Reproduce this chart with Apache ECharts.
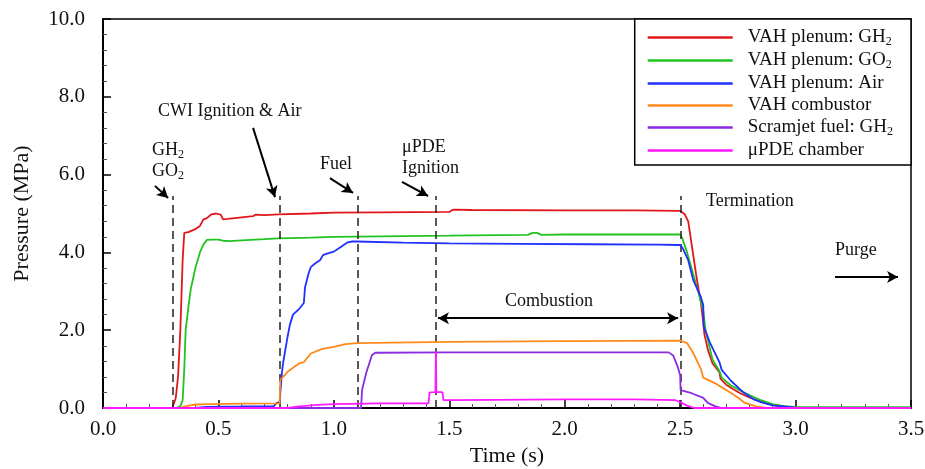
<!DOCTYPE html>
<html><head><meta charset="utf-8">
<script src="https://cdn.jsdelivr.net/npm/echarts@6/dist/echarts.min.js"></script>
<style>html,body{margin:0;padding:0;background:#fff}#c{width:925px;height:469px}</style>
</head><body><div id="c"></div>
<script>
// ---- data (time s, pressure MPa) ----
const seriesNames = ['VAH plenum: GH2','VAH plenum: GO2','VAH plenum: Air','VAH combustor','Scramjet fuel: GH2','μPDE chamber'];
const legendLabels = ['{n|VAH plenum: GH}{s|2}','{n|VAH plenum: GO}{s|2}','{n|VAH plenum: Air}','{n|VAH combustor}','{n|Scramjet fuel: GH}{s|2}','{n|μPDE chamber}'];
const xTicks = [0,0.5,1.0,1.5,2.0,2.5,3.0,3.5];
const yTicks = [0,2,4,6,8,10];
const eventTimes = [0.303,0.767,1.103,1.442,2.502];

const plenumGH2 = [[0,0],[0.30,0],[0.315,0.25],[0.325,0.8],[0.335,2.0],[0.345,3.8],[0.352,4.5],[0.37,4.52],[0.40,4.6],[0.42,4.68],[0.435,4.85],[0.45,4.88],[0.47,4.98],[0.49,5.0],[0.51,4.97],[0.52,4.85],[0.54,4.86],[0.60,4.9],[0.65,4.93],[0.66,4.97],[0.70,4.96],[0.76,4.98],[0.9,5.0],[1.0,5.02],[1.2,5.03],[1.5,5.04],[1.51,5.08],[1.52,5.1],[1.6,5.09],[2.0,5.08],[2.3,5.08],[2.5,5.07],[2.52,4.98],[2.535,4.8],[2.55,4.2],[2.57,3.4],[2.59,2.7],[2.60,2.2],[2.605,1.9],[2.62,1.5],[2.64,1.15],[2.67,0.92],[2.675,0.75],[2.70,0.6],[2.73,0.48],[2.76,0.38],[2.80,0.27],[2.85,0.16],[2.90,0.08],[2.95,0.03],[3.0,0.01],[3.5,0]];
const plenumGO2 = [[0,0],[0.32,0],[0.335,0.05],[0.345,0.2],[0.352,1.0],[0.358,2.0],[0.37,2.6],[0.38,3.05],[0.40,3.6],[0.42,4.0],[0.435,4.2],[0.45,4.32],[0.47,4.33],[0.50,4.33],[0.52,4.30],[0.55,4.29],[0.60,4.31],[0.70,4.34],[0.76,4.36],[0.9,4.38],[1.0,4.40],[1.3,4.42],[1.5,4.43],[1.6,4.44],[1.84,4.45],[1.86,4.5],[1.88,4.5],[1.9,4.45],[2.0,4.46],[2.3,4.46],[2.5,4.46],[2.51,4.35],[2.53,4.0],[2.556,3.45],[2.58,2.95],[2.60,2.5],[2.61,2.0],[2.64,1.25],[2.67,0.95],[2.68,0.78],[2.72,0.58],[2.77,0.42],[2.80,0.33],[2.85,0.2],[2.90,0.1],[2.95,0.05],[3.0,0.03],[3.5,0.02]];
const plenumAir = [[0,0],[0.40,0],[0.45,0.03],[0.60,0.04],[0.74,0.05],[0.75,0.12],[0.765,0.15],[0.775,0.9],[0.78,1.15],[0.79,1.5],[0.80,1.85],[0.81,2.15],[0.823,2.4],[0.85,2.55],[0.87,2.7],[0.875,3.1],[0.89,3.45],[0.90,3.62],[0.92,3.72],[0.94,3.8],[0.953,3.93],[0.97,3.97],[1.0,4.02],[1.03,4.14],[1.06,4.26],[1.08,4.28],[1.10,4.28],[1.3,4.25],[1.5,4.23],[1.8,4.22],[2.1,4.21],[2.4,4.2],[2.5,4.19],[2.51,4.12],[2.535,3.8],[2.556,3.3],[2.59,2.85],[2.60,2.65],[2.602,2.1],[2.63,1.67],[2.67,1.18],[2.68,0.98],[2.72,0.7],[2.77,0.42],[2.82,0.22],[2.85,0.15],[2.90,0.07],[2.95,0.04],[3.0,0.01],[3.5,0]];
const combustor = [[0,0],[0.33,0],[0.36,0.05],[0.40,0.09],[0.46,0.1],[0.60,0.11],[0.765,0.12],[0.768,0.72],[0.78,0.8],[0.80,0.93],[0.85,1.15],[0.87,1.18],[0.90,1.4],[0.95,1.52],[1.0,1.57],[1.05,1.64],[1.10,1.67],[1.5,1.70],[2.0,1.72],[2.5,1.73],[2.53,1.67],[2.556,1.42],[2.59,1.0],[2.60,0.78],[2.65,0.64],[2.70,0.46],[2.75,0.27],[2.78,0.13],[2.83,0.04],[2.87,0],[3.5,0]];
const scramjetGH2 = [[0,0],[1.118,0],[1.122,0.46],[1.14,0.9],[1.165,1.36],[1.18,1.42],[1.5,1.43],[2.0,1.43],[2.45,1.43],[2.47,1.35],[2.49,1.05],[2.50,0.85],[2.502,0.46],[2.55,0.38],[2.60,0.26],[2.62,0.13],[2.65,0.05],[2.68,0],[3.5,0]];
const pdeChamber = [[0,0],[0.80,0],[0.85,0.04],[0.93,0.08],[1.0,0.1],[1.2,0.12],[1.41,0.12],[1.415,0.4],[1.44,0.41],[1.442,1.45],[1.444,0.41],[1.47,0.41],[1.475,0.2],[1.7,0.21],[2.0,0.22],[2.3,0.22],[2.48,0.2],[2.5,0.15],[2.53,0.06],[2.56,0],[3.5,0]];
const seriesData = [plenumGH2, plenumGO2, plenumAir, combustor, scramjetGH2, pdeChamber];
const colors = ['#e0161b','#21c321','#2030ff','#ff8a1c','#8a2be2','#ff19ff'];

// annotation arrows (data coordinates)
const arrows = [
  [[0.225,5.71],[0.282,5.40]],
  [[0.650,7.20],[0.745,5.42]],
  [[0.983,5.91],[1.083,5.53]],
  [[1.295,5.81],[1.408,5.45]],
  [[3.171,3.37],[3.444,3.37]]
];
const combustionSpan = [[1.451,2.31],[2.491,2.31]];

const FONT = 'Liberation Serif';
const chart = echarts.init(document.getElementById('c'), null, {renderer:'canvas'});

const lineSeries = seriesNames.map((n,i)=>({
  name:n, type:'line', data:seriesData[i], showSymbol:false, symbol:'none',
  lineStyle:{color:colors[i], width:1.8}, itemStyle:{color:colors[i]}, z:3+i, animation:false
}));

const dashData = eventTimes.map(t=>[{coord:[t,0]},{coord:[t,5.45]}]);
const arrowData = arrows.map(a=>[{coord:a[0]},{coord:a[1]}]);

const annotSeries = {
  name:'annot', type:'line', data:[], silent:true, animation:false, z:2,
  markLine:{silent:true, animation:false, symbol:['none','none'], label:{show:false},
    lineStyle:{color:'#222', type:[8,5], width:1.5},
    data:dashData}
};
const arrowSeries = {
  name:'arrows', type:'line', data:[], silent:true, animation:false, z:10,
  markLine:{silent:true, animation:false, symbol:['none','arrow'], symbolSize:[9,11], label:{show:false},
    lineStyle:{color:'#000', type:'solid', width:2},
    data:arrowData.concat([[{coord:combustionSpan[0], symbol:'arrow'},{coord:combustionSpan[1]}]])}
};

const richT = {
  n:{fontFamily:FONT, fontSize:18, color:'#111', lineHeight:21},
  s:{fontFamily:FONT, fontSize:12, color:'#111', lineHeight:9, verticalAlign:'bottom'}
};
function txt(x,y,str,align){
  return {type:'text', left:x, top:y, z:100, style:{text:str, rich:richT, font:'18px '+FONT, fill:'#111', align:align||'left'}};
}

chart.setOption({
  animation:false,
  backgroundColor:'#fff',
  grid:{left:103, right:14, top:19, bottom:61, containLabel:false, outerBoundsMode:'none',
    show:true, borderColor:'#000', borderWidth:1.5, backgroundColor:'transparent'},
  xAxis:{type:'value', min:0, max:3.5, interval:0.5,
    name:'Time (s)', nameLocation:'middle', nameGap:37,
    nameTextStyle:{fontFamily:FONT, fontSize:22, color:'#111'},
    axisLine:{show:true, onZero:false, lineStyle:{color:'#000', width:2}},
    axisTick:{show:true, inside:true, length:8, lineStyle:{color:'#000', width:1.5}},
    minorTick:{show:true, splitNumber:5, length:4, lineStyle:{color:'#555', width:1}},
    splitLine:{show:false},
    axisLabel:{fontFamily:FONT, fontSize:21, color:'#111', margin:11, formatter:v=>v.toFixed(1)}
  },
  yAxis:{type:'value', min:0, max:10, interval:2,
    name:'Pressure (MPa)', nameLocation:'middle', nameGap:70,
    nameTextStyle:{fontFamily:FONT, fontSize:22, color:'#111'},
    axisLine:{show:true, onZero:false, lineStyle:{color:'#000', width:2}},
    axisTick:{show:true, inside:true, length:8, lineStyle:{color:'#000', width:1.5}},
    minorTick:{show:true, splitNumber:5, length:4, lineStyle:{color:'#555', width:1}},
    splitLine:{show:false},
    axisLabel:{fontFamily:FONT, fontSize:21, color:'#111', margin:18, formatter:v=>v.toFixed(1)}
  },
  legend:{data:seriesNames, orient:'vertical', right:14, top:19, itemWidth:85, itemHeight:2.5, itemGap:3,
    icon:'rect', backgroundColor:'#fff', borderColor:'#000', borderWidth:1.5, padding:[9,18,5,13],
    formatter:name=>legendLabels[seriesNames.indexOf(name)],
    textStyle:{fontFamily:FONT, fontSize:19, color:'#111',
      rich:{n:{fontFamily:FONT, fontSize:19, color:'#111', lineHeight:21, padding:[0,0,0,10]},
            s:{fontFamily:FONT, fontSize:12, color:'#111', lineHeight:9, verticalAlign:'bottom'}}}
  },
  series: lineSeries.concat([annotSeries, arrowSeries]),
  graphic:[
    txt(152,141,'{n|GH}{s|2}\n{n|GO}{s|2}'),
    txt(158,102,'{n|CWI Ignition & Air}'),
    txt(320,155,'{n|Fuel}'),
    txt(402,138,'{n|μPDE}\n{n|Ignition}'),
    txt(706,192,'{n|Termination}'),
    txt(835,241,'{n|Purge}'),
    txt(505,292,'{n|Combustion}')
  ]
});
</script></body></html>
